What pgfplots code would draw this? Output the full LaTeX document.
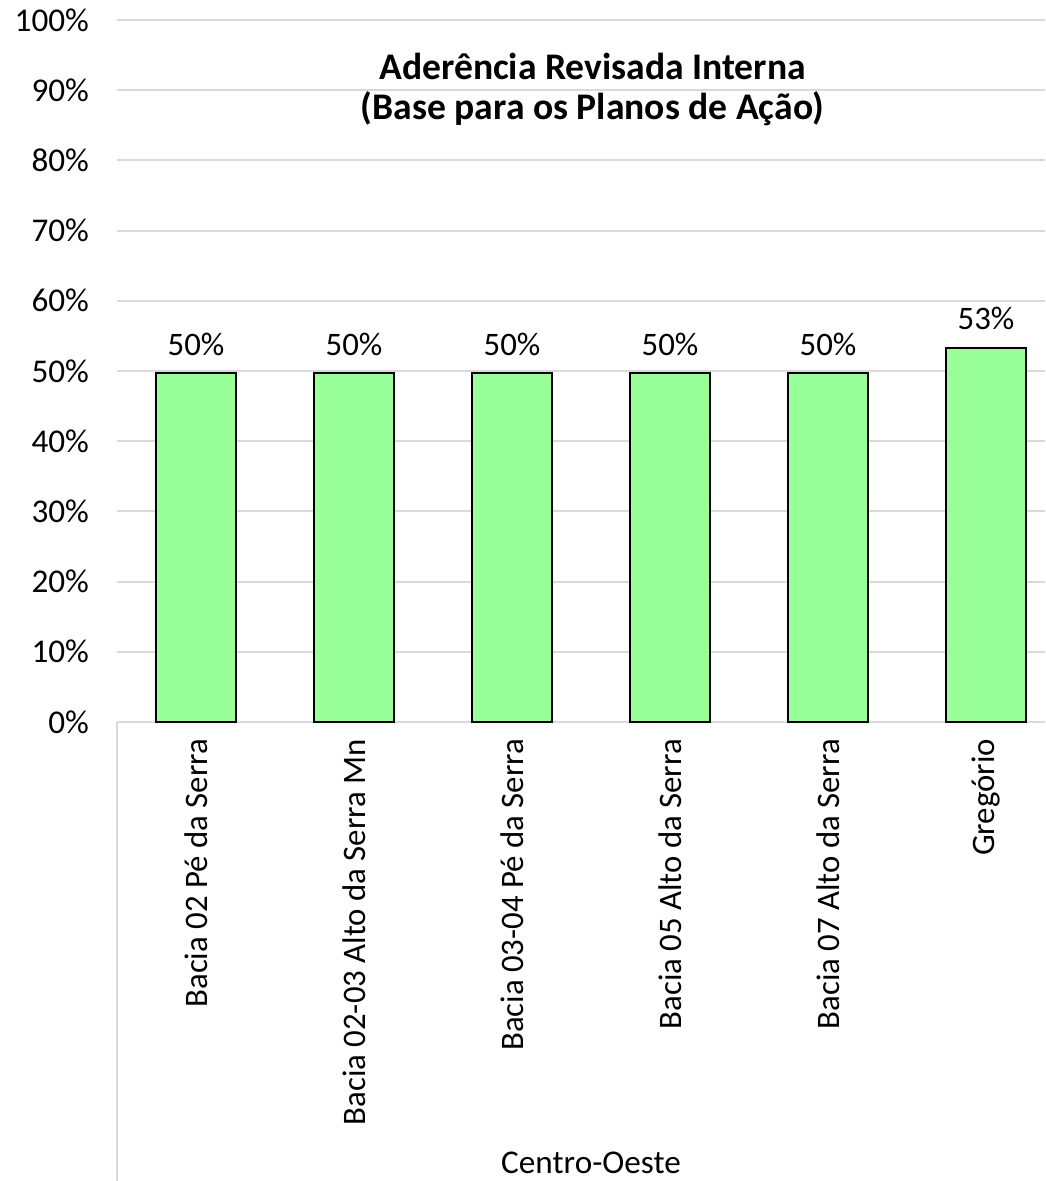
\documentclass[border=0pt]{standalone}
\usepackage{fontspec}
\setmainfont{Carlito}
\usepackage{pgfplots}
\pgfplotsset{compat=1.18}
\definecolor{barg}{RGB}{153,255,153}
\definecolor{gridc}{RGB}{217,217,217}
\begin{document}
\begin{tikzpicture}
\begin{axis}[
  at={(0,0)}, anchor=south west,
  scale only axis, width=464pt, height=351pt,
  xmin=-0.5, xmax=5.373, ymin=0, ymax=100,
  axis x line*=bottom, axis y line*=left,
  y axis line style={draw=none},
  x axis line style={draw=gridc, line width=1pt},
  major tick length=0pt,
  ytick={0,10,...,100},
  yticklabels={0\%,10\%,20\%,30\%,40\%,50\%,60\%,70\%,80\%,90\%,100\%},
  yticklabel style={font=\fontsize{16.6}{19}\selectfont, anchor=east},
  yticklabel shift=10.5pt,
  xtick={0,1,2,3,4,5},
  xticklabels={Bacia 02 Pé da Serra, Bacia 02-03 Alto da Serra Mn, Bacia 03-04 Pé da Serra, Bacia 05 Alto da Serra, Bacia 07 Alto da Serra, Gregório},
  xticklabel style={font=\fontsize{16.4}{19}\selectfont, rotate=90, anchor=east},
  xticklabel shift=5pt,
  ymajorgrids, grid style={draw=gridc, line width=1pt},
  ybar, bar width=40pt,
  point meta=explicit symbolic,
  nodes near coords,
  nodes near coords style={font=\fontsize{16.4}{19}\selectfont, yshift=5pt},
  clip=false,
]
\addplot[fill=barg, draw=black, line width=1pt] coordinates {
  (0,49.7) [50\%]
  (1,49.7) [50\%]
  (2,49.7) [50\%]
  (3,49.7) [50\%]
  (4,49.7) [50\%]
  (5,53.3) [53\%]
};
\node[align=center, font=\fontsize{18.8}{20}\selectfont\bfseries] at (axis cs:2.51,90.1) {Aderência Revisada Interna\\(Base para os Planos de Ação)};
\draw[draw=gridc, line width=1pt] (axis cs:-0.5,0) -- ([yshift=-229.5pt]axis cs:-0.5,0);
\node[font=\fontsize{16.6}{19}\selectfont, inner sep=1pt] at ([yshift=-220.5pt]axis cs:2.5,0) {Centro-Oeste};
\end{axis}
\pgfresetboundingbox
\path[use as bounding box] (-58.5pt,-229.5pt) rectangle (464pt,361pt);
\end{tikzpicture}
\end{document}
